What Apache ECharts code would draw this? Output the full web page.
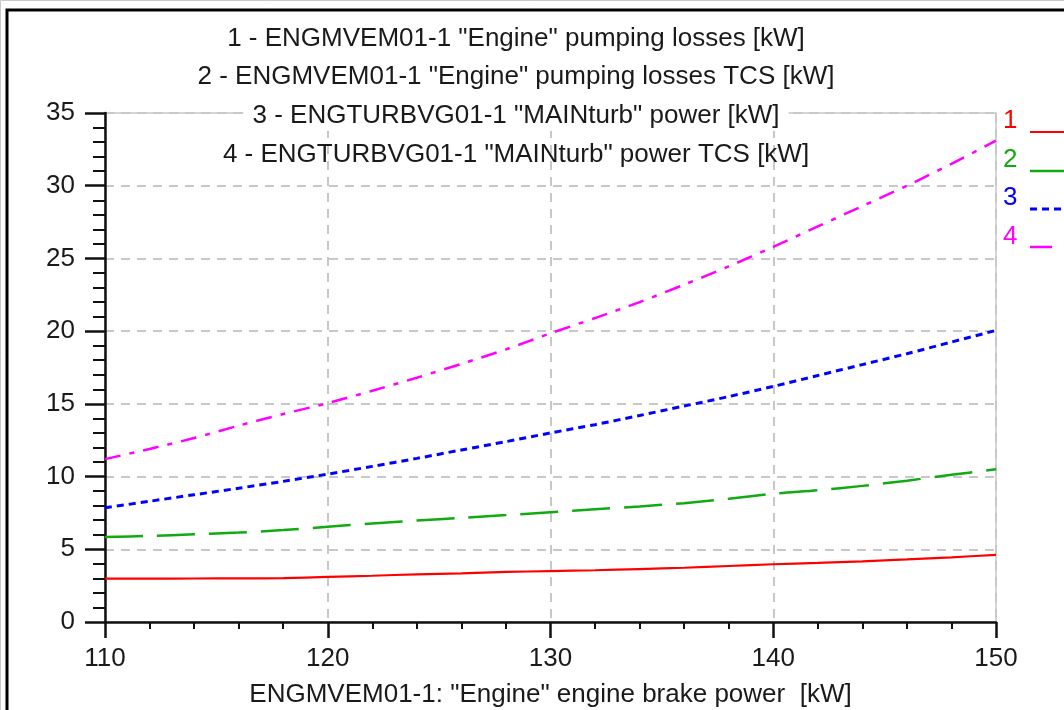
<!DOCTYPE html>
<html>
<head>
<meta charset="utf-8">
<script src="https://cdn.jsdelivr.net/npm/echarts@6/dist/echarts.min.js"></script>
<style>
html,body{margin:0;padding:0;background:#fff;}
#chart{width:1064px;height:710px;}
</style>
</head>
<body>
<div id="chart"></div>
<script>
const xValues = [110,112,114,116,118,120,122,124,126,128,130,132,134,136,138,140,142,144,146,148,150];
const pumpingLosses = [2.98,2.98,2.99,3.0,3.02,3.1,3.18,3.28,3.34,3.44,3.5,3.56,3.64,3.73,3.85,3.97,4.06,4.17,4.3,4.45,4.62];
const pumpingLossesTCS = [5.85,5.92,6.03,6.15,6.32,6.55,6.78,6.98,7.16,7.35,7.55,7.75,7.95,8.17,8.47,8.82,9.06,9.36,9.72,10.12,10.5];
const turbPower = [7.85,8.3,8.75,9.2,9.67,10.17,10.7,11.25,11.83,12.4,13.0,13.57,14.2,14.85,15.5,16.2,16.95,17.7,18.45,19.25,20.05];
const turbPowerTCS = [11.2,11.9,12.65,13.5,14.3,15.05,15.9,16.8,17.75,18.75,19.85,20.9,22.0,23.2,24.45,25.8,27.2,28.6,30.0,31.5,33.1];

const seriesNames = [
  '1 - ENGMVEM01-1 "Engine" pumping losses [kW]',
  '2 - ENGMVEM01-1 "Engine" pumping losses TCS [kW]',
  '3 - ENGTURBVG01-1 "MAINturb" power [kW]',
  '4 - ENGTURBVG01-1 "MAINturb" power TCS [kW]'
];
const legendKeys = ['1','2','3','4'];
const colors = ['#ff0000','#11aa11','#0000ff','#ff00ff'];
const xAxisName = 'ENGMVEM01-1: "Engine" engine brake power  [kW]';
const yTicks = {min:0,max:35,interval:5};
const xTicks = {min:110,max:150,interval:10};

const FONT = '"Liberation Sans", Arial, sans-serif';
const chart = echarts.init(document.getElementById('chart'), null, {renderer:'canvas'});

function pairs(ys){ return xValues.map((x,i)=>[x,ys[i]]); }
const allData = [pumpingLosses, pumpingLossesTCS, turbPower, turbPowerTCS];
const dashTypes = ['solid',[38,14],[7,5],[16,9,5,9]];
const widths = [2.2,2.5,3,2.5];

const series = allData.map((d,i)=>({
  name: seriesNames[i],
  type:'line',
  data: pairs(d),
  showSymbol:false,
  symbol:'none',
  smooth:0.3,
  lineStyle:{color:colors[i],width:widths[i],type:dashTypes[i]},
  itemStyle:{color:colors[i]},
  animation:false,
  z:3
}));

const graphics = [];
graphics.push({type:'rect',shape:{x:7,y:10,width:1200,height:900},style:{fill:null,stroke:'#000',lineWidth:3},z:0,silent:true});
graphics.push({type:'rect',shape:{x:0.5,y:0.5,width:1200,height:900},style:{fill:null,stroke:'#c8c8c8',lineWidth:1},z:0,silent:true});
const titleY = [39,77,116,155];
seriesNames.forEach((t,i)=>{
  graphics.push({type:'text',x:516,y:titleY[i],z:100,silent:true,
    style:{text:t,fontFamily:FONT,fontSize:26,fill:'#1a1a1a',align:'center',verticalAlign:'middle',
      backgroundColor: i===2 ? '#fff' : null, padding: i===2 ? [2,9,2,9] : 0}});
});
const legY = [121,160,198,237];
const lineY = [132,171,209,247];
const lineEnd = [1070,1070,1070,1052];
legendKeys.forEach((k,i)=>{
  graphics.push({type:'text',x:1003,y:legY[i],z:100,silent:true,
    style:{text:k,fontFamily:FONT,fontSize:26,fill:colors[i],align:'left',verticalAlign:'middle'}});
  graphics.push({type:'line',z:100,silent:true,shape:{x1:1030,y1:lineY[i],x2:lineEnd[i],y2:lineY[i]},
    style:{stroke:colors[i],lineWidth:widths[i],lineDash: i===2 ? [7,5] : null}});
});

chart.setOption({
  backgroundColor:'#fff',
  animation:false,
  grid:{left:105,right:68,top:113,bottom:88,show:true,borderColor:'#c8c8c8',borderWidth:1.5,containLabel:false,outerBoundsMode:'none'},
  xAxis:{
    type:'value',min:xTicks.min,max:xTicks.max,interval:xTicks.interval,
    name:xAxisName,nameLocation:'middle',nameGap:60,
    nameTextStyle:{fontFamily:FONT,fontSize:26,color:'#1a1a1a'},
    axisLine:{show:true,lineStyle:{color:'#111',width:2.5}},
    axisTick:{show:true,length:16,lineStyle:{color:'#111',width:2.5}},
    minorTick:{show:true,splitNumber:5,length:7,lineStyle:{color:'#111',width:2}},
    axisLabel:{fontFamily:FONT,fontSize:26,color:'#1a1a1a',margin:24},
    splitLine:{show:true,lineStyle:{color:'#c8c8c8',width:2,type:[9,7]}}
  },
  yAxis:{
    type:'value',min:yTicks.min,max:yTicks.max,interval:yTicks.interval,
    axisLine:{show:true,lineStyle:{color:'#111',width:2.5}},
    axisTick:{show:true,length:20,lineStyle:{color:'#111',width:2.5}},
    minorTick:{show:true,splitNumber:5,length:12,lineStyle:{color:'#111',width:2}},
    axisLabel:{fontFamily:FONT,fontSize:26,color:'#1a1a1a',margin:30},
    splitLine:{show:true,lineStyle:{color:'#c8c8c8',width:2,type:[9,7]}}
  },
  series:series,
  graphic:graphics
});
</script>
</body>
</html>
